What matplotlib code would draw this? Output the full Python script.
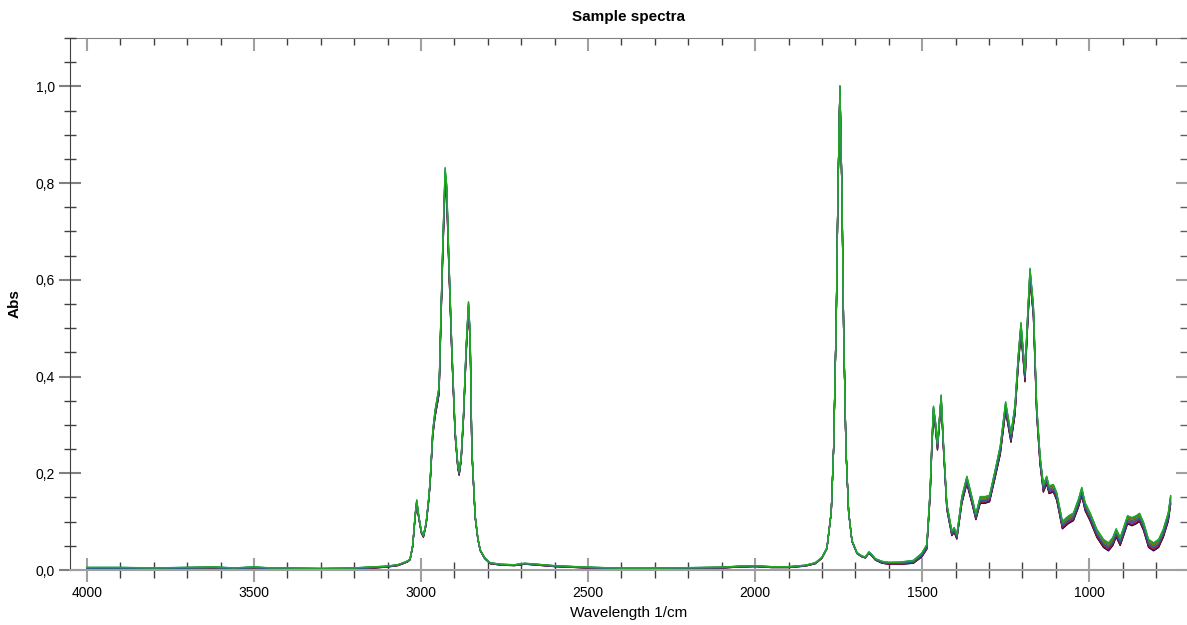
import matplotlib
matplotlib.use("Agg")
import matplotlib.pyplot as plt
import numpy as np
from matplotlib.ticker import MultipleLocator, FuncFormatter, NullFormatter

plt.rcParams['font.family'] = ['Liberation Sans', 'DejaVu Sans']

# wavenumber (1/cm), mean absorbance, and sample spread
wavenumber = [4000, 3900, 3800, 3700, 3620, 3560, 3500, 3450, 3400, 3300, 3200, 3150,
              3103, 3070, 3054, 3040, 3033, 3025, 3018, 3013, 3007, 2999, 2993, 2985,
              2978, 2973, 2965, 2958, 2950, 2946, 2943, 2935, 2928, 2923, 2918, 2908,
              2898, 2890, 2886, 2880, 2873, 2865, 2858, 2853, 2848, 2838, 2830, 2823,
              2810, 2793, 2760, 2720, 2690, 2670, 2600, 2500, 2400, 2300, 2200, 2100,
              2050, 2000, 1950, 1900, 1850, 1820, 1800, 1785, 1772, 1765, 1757, 1752,
              1746, 1740, 1735, 1728, 1720, 1710, 1695, 1680, 1670, 1659, 1650, 1640,
              1620, 1600, 1566, 1526, 1501, 1486, 1476, 1471, 1466, 1460, 1454, 1448,
              1443, 1436, 1426, 1411, 1404, 1396, 1381, 1366, 1351, 1339, 1326, 1311,
              1298, 1281, 1266, 1250, 1234, 1222, 1212, 1204, 1192, 1185, 1177, 1167,
              1157, 1147, 1137, 1127, 1120, 1107, 1097, 1080, 1062, 1047, 1032, 1022,
              1012, 997, 977, 957, 942, 929, 919, 907, 897, 885, 872, 859,
              849, 837, 822, 807, 792, 778, 763, 756]
absorbance = [0.004, 0.004, 0.003, 0.004, 0.005, 0.003, 0.005, 0.003, 0.003, 0.002, 0.003, 0.005,
              0.007, 0.010, 0.014, 0.018, 0.022, 0.050, 0.110, 0.141, 0.110, 0.078, 0.070, 0.095,
              0.140, 0.180, 0.283, 0.324, 0.355, 0.372, 0.455, 0.662, 0.815, 0.780, 0.662, 0.455,
              0.283, 0.215, 0.200, 0.230, 0.317, 0.455, 0.545, 0.480, 0.248, 0.110, 0.065, 0.041,
              0.025, 0.014, 0.011, 0.010, 0.013, 0.012, 0.008, 0.005, 0.003, 0.003, 0.004, 0.005,
              0.007, 0.008, 0.006, 0.006, 0.009, 0.014, 0.025, 0.045, 0.120, 0.250, 0.520, 0.780,
              1.000, 0.780, 0.500, 0.250, 0.120, 0.060, 0.035, 0.028, 0.026, 0.036, 0.030, 0.022,
              0.016, 0.014, 0.014, 0.017, 0.031, 0.048, 0.159, 0.255, 0.331, 0.300, 0.255, 0.310,
              0.355, 0.255, 0.131, 0.076, 0.083, 0.069, 0.145, 0.186, 0.145, 0.110, 0.145, 0.145,
              0.148, 0.200, 0.248, 0.338, 0.273, 0.331, 0.435, 0.500, 0.400, 0.504, 0.611, 0.538,
              0.331, 0.228, 0.169, 0.186, 0.166, 0.169, 0.152, 0.093, 0.104, 0.110, 0.138, 0.162,
              0.131, 0.110, 0.076, 0.055, 0.048, 0.059, 0.077, 0.059, 0.079, 0.104, 0.100, 0.104,
              0.109, 0.090, 0.055, 0.048, 0.055, 0.076, 0.110, 0.145]
spread = [0.003] * 12 + \
         [0.002, 0.002, 0.002, 0.002, 0.002, 0.004, 0.006, 0.008, 0.006, 0.004, 0.004, 0.005,
          0.006, 0.008, 0.012, 0.014, 0.015, 0.015, 0.018, 0.025, 0.035, 0.030, 0.025, 0.018,
          0.012, 0.008, 0.008, 0.009, 0.012, 0.018, 0.020, 0.018, 0.010, 0.005, 0.003, 0.002,
          0.002, 0.002, 0.002, 0.002, 0.002, 0.002, 0.002, 0.002, 0.002, 0.002, 0.002, 0.002,
          0.002, 0.002, 0.002, 0.002, 0.002, 0.002, 0.002, 0.002, 0.002, 0.002, 0.002, 0.002,
          0.001, 0.002, 0.002, 0.002, 0.002, 0.002, 0.002, 0.002, 0.002, 0.003, 0.003, 0.003,
          0.004, 0.004, 0.005, 0.006, 0.008, 0.010, 0.014, 0.016, 0.016, 0.015, 0.014, 0.014,
          0.014, 0.014, 0.012, 0.010, 0.010, 0.010, 0.014, 0.016, 0.014, 0.012, 0.014, 0.014,
          0.014, 0.016, 0.018, 0.020, 0.018, 0.020, 0.022, 0.024, 0.022, 0.024, 0.026, 0.024,
          0.020, 0.018, 0.016, 0.016, 0.016, 0.016, 0.016, 0.016, 0.016, 0.016, 0.017, 0.018,
          0.017, 0.017, 0.017, 0.017, 0.017, 0.017, 0.017, 0.017, 0.017, 0.017, 0.017, 0.017,
          0.017, 0.017, 0.017, 0.017, 0.017, 0.017, 0.018, 0.018]

# position of each sample inside the spread band
sample_shift = [-0.5, -0.45, 0.3, -0.2, 0.1, -0.35, 0.2, 0.45, 0.0, -0.1, 0.4, 0.5]
sample_colors = ['#000000', '#4b0082', '#cc0000', '#c000c0', '#0000cc', '#8b1a1a',
                 '#808000', '#00b0b0', '#6b8e23', '#1e5aa0', '#2e8b57', '#22aa22']

wn = np.array(wavenumber)
base = np.array(absorbance)
band = np.array(spread)

fig = plt.figure(figsize=(11.87, 6.25), dpi=100)
ax = fig.add_axes([70 / 1187, 1 - 570 / 625, 1 - 70 / 1187, (570 - 38) / 625])

for shift, col in zip(sample_shift, sample_colors):
    ax.plot(wn, base + shift * band, color=col, linewidth=0.9)

ax.set_xlim(4051, 707)
ax.set_ylim(0, 1.10)

ax.set_xticks([4000, 3500, 3000, 2500, 2000, 1500, 1000])
ax.xaxis.set_minor_locator(MultipleLocator(100))
ax.yaxis.set_major_locator(MultipleLocator(0.2))
ax.yaxis.set_minor_locator(MultipleLocator(0.05))
ax.yaxis.set_major_formatter(FuncFormatter(lambda v, p: f"{v:.1f}".replace('.', ',')))

ax.tick_params(axis='both', which='both', labelsize=10)
ax.tick_params(axis='x', which='major', direction='inout', length=17, width=1.5,
               color='#a0a0a0', pad=3)
ax.tick_params(axis='x', which='minor', direction='inout', length=12, width=1, color='#404040')
ax.tick_params(axis='y', which='major', direction='inout', length=16, width=1.5,
               color='#808080', pad=3)
ax.tick_params(axis='y', which='minor', direction='inout', length=9, width=1, color='#404040')

# top ticks point inward only
top = ax.secondary_xaxis('top')
top.set_xticks([4000, 3500, 3000, 2500, 2000, 1500, 1000])
top.xaxis.set_minor_locator(MultipleLocator(100))
top.xaxis.set_major_formatter(NullFormatter())
top.tick_params(axis='x', which='major', direction='in', length=9, width=1.5, color='#a0a0a0')
top.tick_params(axis='x', which='minor', direction='in', length=5, width=1, color='#404040')
top.spines['top'].set_color('#808080')

# right ticks point inward, no spine line
right = ax.secondary_yaxis('right')
right.yaxis.set_major_locator(MultipleLocator(0.2))
right.yaxis.set_minor_locator(MultipleLocator(0.05))
right.yaxis.set_major_formatter(NullFormatter())
right.tick_params(axis='y', which='major', direction='in', length=8, width=1.5, color='#a0a0a0')
right.tick_params(axis='y', which='minor', direction='in', length=5, width=1, color='#606060')
right.spines['right'].set_visible(False)

ax.spines['right'].set_visible(False)
ax.spines['top'].set_visible(False)
ax.spines['bottom'].set_color('#a0a0a0')
ax.spines['bottom'].set_linewidth(1.5)
ax.spines['left'].set_color('#404040')

ax.set_title('Sample spectra', fontsize=11, fontweight='bold', pad=12)
ax.set_xlabel('Wavelength 1/cm', fontsize=11, labelpad=4)
ax.set_ylabel('Abs', fontsize=11, fontweight='bold')
ax.yaxis.set_label_coords(-48 / 1117, 0.5)

fig.savefig('out.png', dpi=100)
